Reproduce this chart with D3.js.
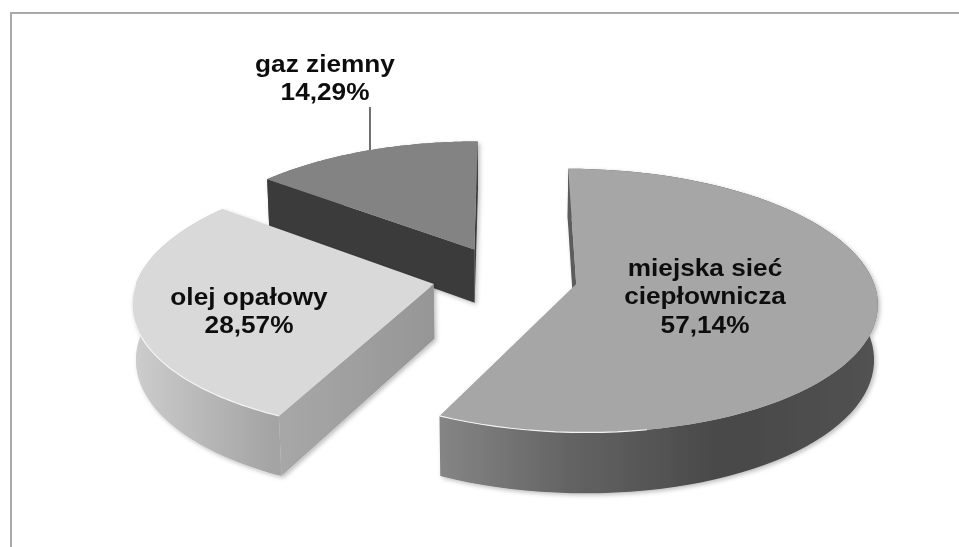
<!DOCTYPE html>
<html>
<head>
<meta charset="utf-8">
<script src="https://cdn.jsdelivr.net/npm/d3@7"></script>
<style>
  html, body { margin: 0; padding: 0; background: #fff; overflow: hidden; }
  text { font-family: "Liberation Sans", Arial, sans-serif; font-weight: bold; fill: #111; }
</style>
</head>
<body>
<div id="chart"></div>
<script>
const categories = ['miejska sieć ciepłownicza', 'olej opałowy', 'gaz ziemny'];
const shares = [57.14, 28.57, 14.29];

const W = 959, H = 547;

// ─── Perspective of the tilted disc ─────────────────────────────────────
const view = { cx: 505, cy: 277, R: 296, k: 128, p: 0.125, h: 55, q: 0.01, explode: 0.245 };

function project(X, Y, drop) {
  const w = 1 + view.p * Y + view.q * drop;
  return [view.cx + view.R * X / w, view.cy + (-view.k * Y + view.h * drop) / w];
}

const svg = d3.select('#chart').append('svg').attr('width', W).attr('height', H);
const defs = svg.append('defs');

const shadow = defs.append('filter').attr('id', 'soft')
  .attr('x', '-5%').attr('y', '-5%').attr('width', '110%').attr('height', '115%');
shadow.append('feDropShadow')
  .attr('dx', 2).attr('dy', 2).attr('stdDeviation', 2)
  .attr('flood-color', '#000').attr('flood-opacity', 0.25);

// the reference is a slightly soft bitmap
defs.append('filter').attr('id', 'soften')
  .attr('x', 0).attr('y', 0).attr('width', '100%').attr('height', '100%')
  .append('feGaussianBlur').attr('stdDeviation', 0.45);

function gradient(id, x1, x2, stops) {
  const g = defs.append('linearGradient').attr('id', id)
    .attr('gradientUnits', 'userSpaceOnUse')
    .attr('x1', x1).attr('x2', x2).attr('y1', 0).attr('y2', 0);
  stops.forEach(s => g.append('stop').attr('offset', s[0]).attr('stop-color', s[1]));
  return `url(#${id})`;
}

// sides: which radial walls face the viewer (0 = slice start, 1 = slice end)
const sliceStyles = [
  { top: '#a6a6a6', side: '#5c5c5c', sides: [0], glint: [0.83, 1],
    outer: gradient('big-wall', 440, 878, [[0, '#858585'], [0.3, '#636363'], [0.65, '#484848'], [1, '#525252']]) },
  { top: '#d9d9d9', side: gradient('oil-side', 273, 435, [[0, '#a8a8a8'], [1, '#969696']]), sides: [0], glint: [0, 0.62],
    outer: gradient('oil-wall', 133, 273, [[0, '#cdcdcd'], [0.5, '#b8b8b8'], [1, '#a4a4a4']]) },
  { top: '#838383', side: '#3a3a3a', sides: [0, 1], outer: '#666666', glint: null }
];

const root = svg.append('g').attr('filter', 'url(#soften)');

root.append('rect').attr('width', W).attr('height', H).attr('fill', '#fff');

// ─── Frame ──────────────────────────────────────────────────────────────
root.append('path')
  .attr('d', `M11,${H + 4} V13 H${W + 4}`)
  .attr('fill', 'none').attr('stroke', '#a9a9a9').attr('stroke-width', 2);

// ─── Slices ─────────────────────────────────────────────────────────────
const pie = d3.pie().sort(null).value(d => d)(shares);
const line = d3.line();

function rim(slice, drop) {
  const ex = Math.sin((slice.startAngle + slice.endAngle) / 2) * view.explode;
  const ey = Math.cos((slice.startAngle + slice.endAngle) / 2) * view.explode;
  const n = 80;
  return {
    apex: project(ex, ey, drop),
    arc: d3.range(n + 1).map(i => {
      const a = slice.startAngle + (slice.endAngle - slice.startAngle) * i / n;
      return project(ex + Math.sin(a), ey + Math.cos(a), drop);
    })
  };
}

function drawSlice(slice) {
  const style = sliceStyles[slice.index];
  const top = rim(slice, 0);
  const bottom = rim(slice, 1);
  const g = root.append('g').attr('filter', 'url(#soft)');
  const last = top.arc.length - 1;

  // outer wall, then the radial walls, then the top face over them
  g.append('path')
    .attr('d', line(top.arc.concat(bottom.arc.slice().reverse())) + 'Z')
    .attr('fill', style.outer);
  style.sides.forEach(s => {
    const i = s * last;
    g.append('path')
      .attr('d', line([top.apex, top.arc[i], bottom.arc[i], bottom.apex]) + 'Z')
      .attr('fill', style.side);
  });
  g.append('path')
    .attr('d', line([top.apex].concat(top.arc)) + 'Z')
    .attr('fill', style.top);

  // thin bevel highlight on the near edge of the top face
  if (style.glint) {
    root.append('path')
      .attr('d', line(top.arc.slice(Math.round(style.glint[0] * last), Math.round(style.glint[1] * last) + 1)))
      .attr('fill', 'none').attr('stroke', '#f4f4f4').attr('stroke-width', 1.2);
  }
}

// far slice first so the nearer ones overlap it
[2, 1, 0].forEach(i => drawSlice(pie[i]));

// ─── Labels ─────────────────────────────────────────────────────────────
const pct = v => v.toFixed(2).replace('.', ',') + '%';
const labelLines = [
  ['miejska sieć', 'ciepłownicza', pct(shares[0])],
  [categories[1], pct(shares[1])],
  [categories[2], pct(shares[2])]
];
const labelPos = [
  { x: 705, y: 276 },
  { x: 249, y: 305 },
  { x: 325, y: 72 }
];

labelLines.forEach((lines, i) => {
  const t = root.append('text')
    .attr('transform', `translate(${labelPos[i].x},${labelPos[i].y}) scale(1.14,1)`)
    .attr('text-anchor', 'middle')
    .attr('font-size', 23);
  lines.forEach((s, j) => {
    t.append('tspan').attr('x', 0).attr('y', j * 28.5).text(s);
  });
});

// leader line of the gas label
root.append('line')
  .attr('x1', 370).attr('x2', 370).attr('y1', 107).attr('y2', 150)
  .attr('stroke', '#111').attr('stroke-width', 1.2);
</script>
</body>
</html>
